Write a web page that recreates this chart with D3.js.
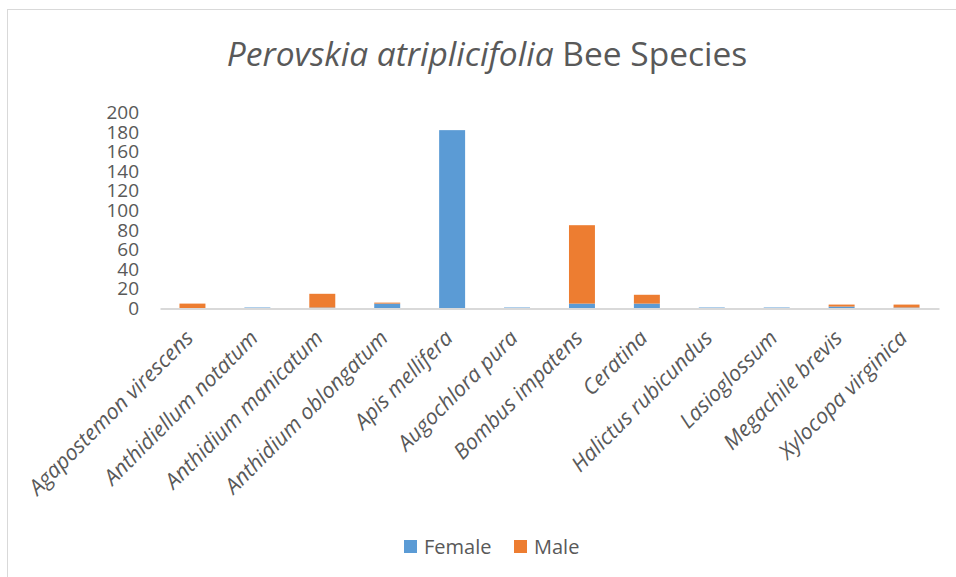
<!DOCTYPE html>
<html>
<head>
<meta charset="utf-8">
<script src="https://cdn.jsdelivr.net/npm/d3@7"></script>
<style>
  body { margin: 0; background: #fff; }
  svg { display: block; font-family: "Open Sans", sans-serif; }
</style>
</head>
<body>
<div id="chart"></div>
<script>
const species = [
  'Agapostemon virescens', 'Anthidiellum notatum', 'Anthidium manicatum',
  'Anthidium oblongatum', 'Apis mellifera', 'Augochlora pura',
  'Bombus impatens', 'Ceratina', 'Halictus rubicundus', 'Lasioglossum',
  'Megachile brevis', 'Xylocopa virginica'
];
const female = [0, 1, 1, 5, 182, 1, 5, 5, 1, 1, 2, 1];
const male = [5, 0, 14, 1, 0, 0, 80, 9, 0, 0, 2, 3];
const seriesNames = ['Female', 'Male'];
const seriesColors = ['#5b9bd5', '#ed7d31'];
const yTicks = [0, 20, 40, 60, 80, 100, 120, 140, 160, 180, 200];

const width = 956, height = 577;

const svg = d3.select('#chart').append('svg')
  .attr('width', width)
  .attr('height', height);

// chart area border
svg.append('rect')
  .attr('x', 7.5).attr('y', 9.5)
  .attr('width', 960).attr('height', 580)
  .attr('fill', '#fff')
  .attr('stroke', '#d9d9d9');

// title
const title = svg.append('text')
  .attr('x', 487).attr('y', 66)
  .attr('text-anchor', 'middle')
  .attr('font-size', 33.5)
  .attr('fill', '#595959');
title.append('tspan').attr('font-style', 'italic').text('Perovskia atriplicifolia');
title.append('tspan').text(' Bee Species');

const x = d3.scaleBand()
  .domain(species)
  .range([160, 939])
  .paddingInner(0.6)
  .paddingOuter(0.3);

const y = d3.scaleLinear()
  .domain([0, 200])
  .range([308.5, 112.5]);

const rows = species.map((s, i) => ({ species: s, Female: female[i], Male: male[i] }));
const stacked = d3.stack().keys(seriesNames)(rows);

svg.append('g')
  .selectAll('g')
  .data(stacked)
  .join('g')
  .attr('fill', (d, i) => seriesColors[i])
  .selectAll('rect')
  .data(d => d)
  .join('rect')
  .attr('x', d => x(d.data.species))
  .attr('width', x.bandwidth())
  .attr('y', d => y(d[1]))
  .attr('height', d => y(d[0]) - y(d[1]));

// y axis labels
const yAxis = svg.append('g')
  .attr('transform', 'translate(139,0)')
  .call(d3.axisLeft(y).tickValues(yTicks).tickSize(0).tickPadding(0));
yAxis.select('.domain').remove();
yAxis.selectAll('text')
  .attr('font-size', 19)
  .attr('font-family', '"Open Sans", sans-serif')
  .attr('fill', '#595959');

// x axis line and labels
const xAxis = svg.append('g')
  .attr('transform', `translate(0,${y(0)})`)
  .call(d3.axisBottom(x).tickSize(0).tickPadding(0));
xAxis.select('.domain')
  .attr('stroke', '#d9d9d9')
  .attr('stroke-width', 2);
xAxis.selectAll('text')
  .attr('font-size', 21.5)
  .attr('font-style', 'italic')
  .attr('font-family', '"Open Sans", sans-serif')
  .attr('fill', '#595959')
  .attr('text-anchor', 'end')
  .attr('dy', null)
  .attr('transform', 'translate(2,31) rotate(-45)');

// legend
const legend = svg.append('g')
  .selectAll('g')
  .data(seriesNames)
  .join('g')
  .attr('transform', (d, i) => `translate(${[404, 514][i]},540)`);
legend.append('rect')
  .attr('width', 13).attr('height', 13)
  .attr('fill', (d, i) => seriesColors[i]);
legend.append('text')
  .attr('x', 20).attr('y', 13.5)
  .attr('font-size', 20)
  .attr('fill', '#595959')
  .text(d => d);
</script>
</body>
</html>
